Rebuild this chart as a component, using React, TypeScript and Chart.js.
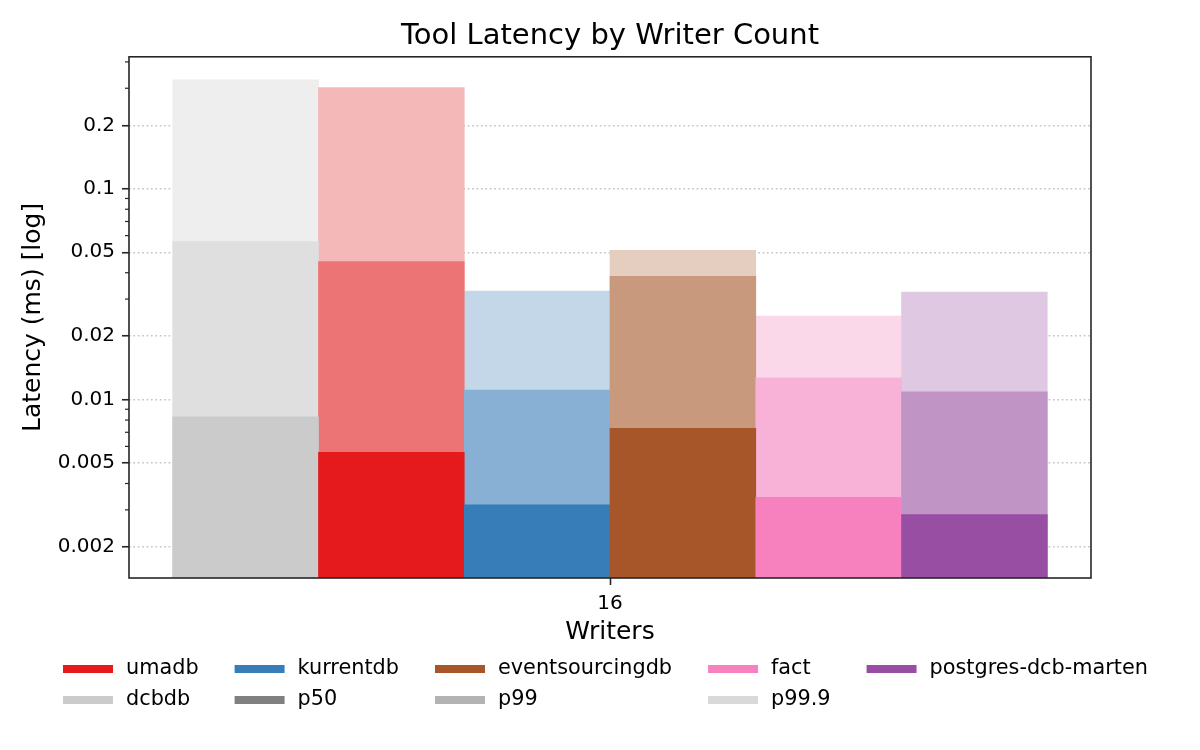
import { useEffect, useRef } from "react"
import { Chart, registerables } from "chart.js"

Chart.register(...registerables)

// data (ms, log axis)
const writerCounts = ["16"]
const databases = ["dcbdb", "umadb", "kurrentdb", "eventsourcingdb", "fact", "postgres-dcb-marten"]
const p50Latency = [0.00828, 0.00562, 0.00317, 0.0073, 0.00344, 0.00285]
const p99Latency = [0.0562, 0.0452, 0.0111, 0.0385, 0.0127, 0.0109]
const p999Latency = [0.329, 0.302, 0.0327, 0.0511, 0.0249, 0.0324]
const percentiles = ["p50", "p99", "p99.9"]
const yTickValues = [0.002, 0.005, 0.01, 0.02, 0.05, 0.1, 0.2]
const legendDbs = ["umadb", "kurrentdb", "eventsourcingdb", "fact", "postgres-dcb-marten", "dcbdb"]

// colours per database, one list per percentile shade
const p50Colors = ["#cbcbcb", "#e41a1c", "#377eb8", "#a65628", "#f781bf", "#984ea3"]
const p99Colors = ["#dfdfdf", "#ed7475", "#87b0d4", "#c8997d", "#f8b1d7", "#c194c6"]
const p999Colors = ["#eeeeee", "#f4b8b8", "#c3d7e8", "#e5cdc0", "#fad8ea", "#dfc8e2"]
const percentileSwatches = ["#808080", "#b3b3b3", "#d9d9d9"]

const Y_MIN = 0.001425
const Y_MAX = 0.423
const AXIS_COLOR = "#262626"
const FONT = "'DejaVu Sans', Verdana, sans-serif"

const isMajor = (v?: number) =>
  v !== undefined && yTickValues.some((t) => Math.abs(t - v) / t < 1e-6)

// log ticks 1..9 per decade inside the axis range
const allYTicks: number[] = []
for (let e = -4; e <= 0; e++) {
  for (let m = 1; m <= 9; m++) {
    const v = parseFloat((m * Math.pow(10, e)).toPrecision(6))
    if (v >= Y_MIN && v <= Y_MAX) allYTicks.push(v)
  }
}

const framePlugin = {
  id: "frame",
  afterDraw(chart: Chart) {
    const { ctx, chartArea } = chart
    const yScale = chart.scales.y
    ctx.save()
    // minor ticks on the y axis
    ctx.strokeStyle = AXIS_COLOR
    ctx.lineWidth = 1.2
    allYTicks.filter((v) => !isMajor(v)).forEach((v) => {
      const py = yScale.getPixelForValue(v)
      ctx.beginPath()
      ctx.moveTo(chartArea.left - 4, py)
      ctx.lineTo(chartArea.left, py)
      ctx.stroke()
    })
    // axes box
    ctx.lineWidth = 1.6
    ctx.strokeRect(chartArea.left, chartArea.top, chartArea.right - chartArea.left, chartArea.bottom - chartArea.top)
    ctx.restore()
  },
}

const legendPlugin = {
  id: "gridLegend",
  afterDraw(chart: Chart) {
    const { ctx } = chart
    const items = [
      ...legendDbs.map((db) => ({ label: db, color: p50Colors[databases.indexOf(db)] })),
      ...percentiles.map((p, i) => ({ label: p, color: percentileSwatches[i] })),
    ]
    const cols = 5
    const handle = 50
    const textPad = 13
    const colGap = 36
    const rowY = [669, 700]
    ctx.save()
    ctx.font = `20.8px ${FONT}`
    ctx.textBaseline = "middle"
    ctx.fillStyle = "#000"
    let x = 63
    for (let c = 0; c < cols; c++) {
      const colItems = items.filter((_, i) => i % cols === c)
      const textW = Math.max(...colItems.map((it) => ctx.measureText(it.label).width))
      colItems.forEach((it, r) => {
        ctx.fillStyle = it.color
        ctx.fillRect(x, rowY[r] - 4, handle, 8)
        ctx.fillStyle = "#000"
        ctx.fillText(it.label, x + handle + textPad, rowY[r])
      })
      x += handle + textPad + textW + colGap
    }
    ctx.restore()
  },
}

function LatencyChart() {
  const chartRef = useRef<HTMLCanvasElement>(null)
  const chartInstance = useRef<Chart | null>(null)

  useEffect(() => {
    if (!chartRef.current) return
    const ctx = chartRef.current.getContext("2d")
    if (!ctx) return
    if (chartInstance.current) chartInstance.current.destroy()

    Chart.defaults.font.family = FONT
    Chart.defaults.color = "#000"

    const half = (databases.length - 1) / 2
    const xPos = databases.map((_, i) => i - half)
    const xLimit = (databases.length / 2) * 1.1
    const series = [
      { label: "p50", values: p50Latency, colors: p50Colors },
      { label: "p99", values: p99Latency, colors: p99Colors },
      { label: "p99.9", values: p999Latency, colors: p999Colors },
    ]

    chartInstance.current = new Chart(ctx, {
      type: "bar",
      data: {
        datasets: series.map((s) => ({
          label: s.label,
          data: s.values.map((v, i) => ({ x: xPos[i], y: v })),
          backgroundColor: s.colors,
          borderWidth: 0,
          grouped: false,
          barPercentage: 1,
          categoryPercentage: 1,
        })),
      },
      options: {
        animation: false,
        responsive: true,
        maintainAspectRatio: false,
        layout: { padding: { top: 0, right: 109, bottom: 103, left: 0 } },
        plugins: {
          legend: { display: false },
          tooltip: { enabled: false },
          title: {
            display: true,
            text: "Tool Latency by Writer Count",
            fullSize: false,
            font: { size: 29, weight: "normal" },
            color: "#000",
            padding: { top: 19, bottom: 3 },
          },
        },
        scales: {
          x: {
            type: "linear",
            offset: false,
            min: -xLimit,
            max: xLimit,
            afterBuildTicks: (s: any) => {
              s.ticks = [{ value: 0 }]
            },
            afterFit: (s: any) => {
              s.height = 69
            },
            ticks: {
              callback: () => writerCounts[0],
              font: { size: 20 },
              color: "#000",
              padding: 7,
              maxRotation: 0,
            },
            grid: {
              display: true,
              offset: false,
              drawOnChartArea: false,
              tickLength: 7,
              tickColor: AXIS_COLOR,
              tickWidth: 1.6,
            },
            border: { display: false },
            title: {
              display: true,
              text: "Writers",
              font: { size: 25 },
              color: "#000",
              padding: { top: 0, bottom: 0 },
            },
          },
          y: {
            type: "logarithmic",
            min: Y_MIN,
            max: Y_MAX,
            z: 1,
            afterBuildTicks: (s: any) => {
              s.ticks = allYTicks.map((v) => ({ value: v }))
            },
            afterFit: (s: any) => {
              s.width = 129
            },
            ticks: {
              autoSkip: false,
              callback: (v: any) => (isMajor(Number(v)) ? String(Number(v)) : ""),
              font: { size: 20 },
              color: "#000",
              padding: 7,
            },
            grid: {
              color: (c: any) => (isMajor(c.tick?.value) ? "rgba(120,120,120,0.45)" : "rgba(0,0,0,0)"),
              lineWidth: 1.5,
              tickLength: 7,
              tickWidth: 1.6,
              tickColor: (c: any) => (isMajor(c.tick?.value) ? AXIS_COLOR : "rgba(0,0,0,0)"),
            },
            border: { display: false, dash: [1.6, 2.8] },
            title: {
              display: true,
              text: "Latency (ms) [log]",
              font: { size: 25 },
              color: "#000",
              padding: { top: 18, bottom: 0 },
            },
          },
        },
      },
      plugins: [framePlugin, legendPlugin],
    } as any)

    return () => {
      if (chartInstance.current) {
        chartInstance.current.destroy()
        chartInstance.current = null
      }
    }
  }, [])

  return (
    <div style={{ position: "absolute", left: 0, top: 0, width: 1200, height: 750, background: "#fff" }}>
      <canvas ref={chartRef}></canvas>
    </div>
  )
}

export default function App() {
  return <LatencyChart />
}
